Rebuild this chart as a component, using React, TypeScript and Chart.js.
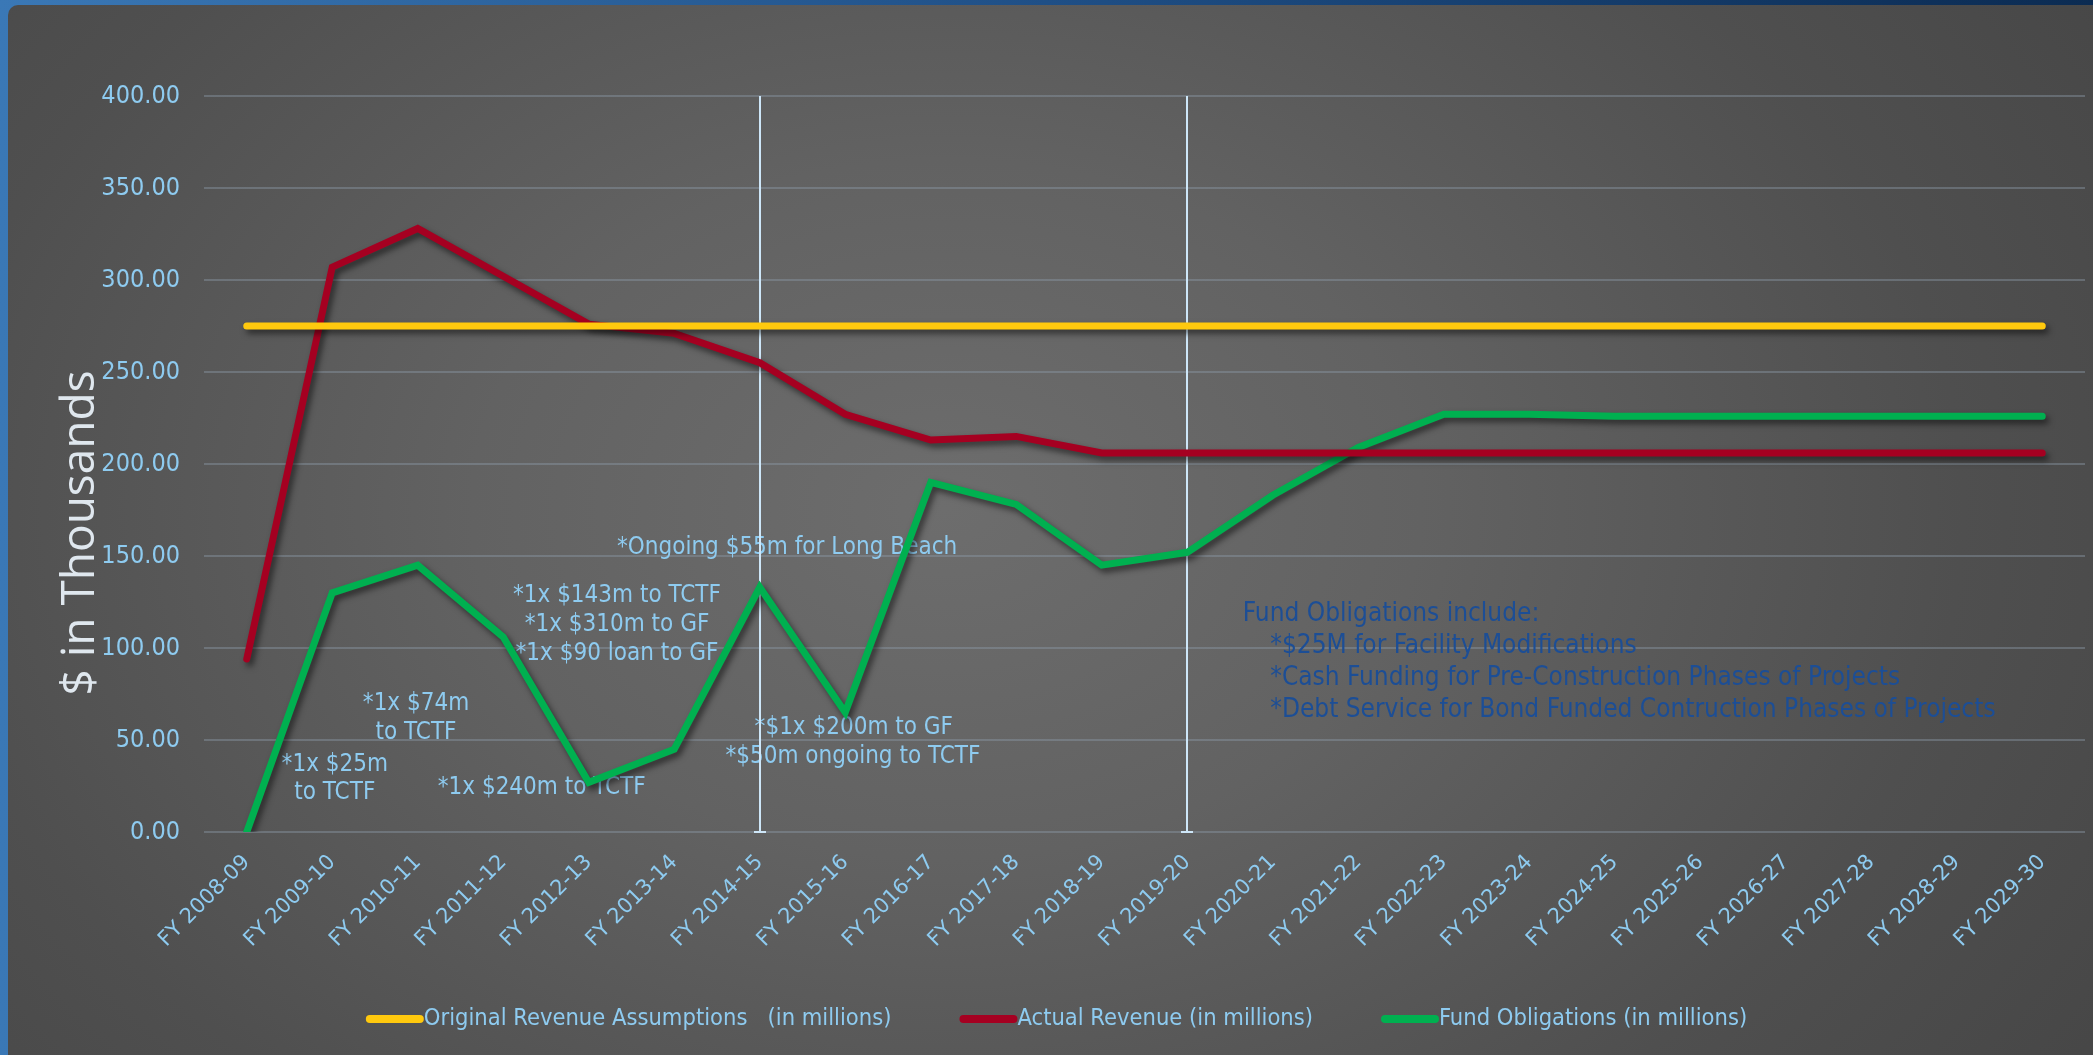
import React, { useEffect, useRef } from "react";
import { Chart, registerables } from "chart.js";

Chart.register(...registerables);

// ---------- data ----------
const categories = [
  "FY 2008-09", "FY 2009-10", "FY 2010-11", "FY 2011-12", "FY 2012-13", "FY 2013-14",
  "FY 2014-15", "FY 2015-16", "FY 2016-17", "FY 2017-18", "FY 2018-19", "FY 2019-20",
  "FY 2020-21", "FY 2021-22", "FY 2022-23", "FY 2023-24", "FY 2024-25", "FY 2025-26",
  "FY 2026-27", "FY 2027-28", "FY 2028-29", "FY 2029-30",
];

const originalRevenue = [
  275, 275, 275, 275, 275, 275, 275, 275, 275, 275, 275,
  275, 275, 275, 275, 275, 275, 275, 275, 275, 275, 275,
];

const actualRevenue = [
  94, 307, 328, 302, 276, 271, 255, 227, 213, 215, 206,
  206, 206, 206, 206, 206, 206, 206, 206, 206, 206, 206,
];

const fundObligations = [
  0, 130, 145, 106, 27, 45, 133, 65, 190, 178, 145,
  152, 183, 209, 227, 227, 226, 226, 226, 226, 226, 226,
];

const seriesLabels = [
  "Original Revenue Assumptions   (in millions)",
  "Actual Revenue (in millions)",
  "Fund Obligations (in millions)",
];

const yAxisTitle = "$ in Thousands";
const yMin = 0;
const yMax = 400;
const yStep = 50;

// vertical marker lines at these fiscal years
const markerYears = ["FY 2014-15", "FY 2019-20"];

// annotation notes: text, category position (index), value position
const noteTexts = [
  "*Ongoing $55m for Long Beach",
  "*1x $143m to TCTF",
  "*1x $310m to GF",
  "*1x $90 loan to GF",
  "*1x $74m",
  "to TCTF",
  "*1x $25m",
  "to TCTF",
  "*1x $240m to TCTF",
  "*$1x $200m to GF",
  "*$50m ongoing to TCTF",
];
const noteAt = [6.32, 4.33, 4.33, 4.33, 1.98, 1.98, 1.03, 1.03, 3.45, 7.1, 7.09];
const noteValue = [154.7, 128.6, 112.8, 96.7, 69.8, 53.8, 36.4, 21.2, 24.1, 56.7, 40.8];

const fundNoteTexts = [
  "Fund Obligations include:",
  "*$25M for Facility Modifications",
  "*Cash Funding for Pre-Construction Phases of Projects",
  "*Debt Service for Bond Funded Contruction Phases of Projects",
];
const fundNoteAt = [11.65, 11.97, 11.97, 11.97];
const fundNoteValue = [118.5, 101.0, 83.6, 66.3];

// ---------- styles ----------
const YELLOW = "#ffc90e";
const RED = "#a50021";
const GREEN = "#00b050";
const SERIES_COLORS = [YELLOW, RED, GREEN];
const LIGHT_BLUE = "#8ecbf0";
const DARK_BLUE = "#1c4e96";
const NARROW = '"Liberation Sans Narrow", "DejaVu Sans Condensed", "Roboto Condensed", "Arial Narrow", sans-serif';

const overlayPlugin = {
  id: "overlay",
  beforeDatasetsDraw(chart: any) {
    const { ctx, scales } = chart;
    const xs = scales.x;
    const ys = scales.y;
    ctx.save();
    ctx.font = `24px ${NARROW}`;
    ctx.textAlign = "center";
    ctx.textBaseline = "middle";
    ctx.fillStyle = LIGHT_BLUE;
    noteTexts.forEach((t, i) => {
      ctx.fillText(t, xs.getPixelForValue(noteAt[i]), ys.getPixelForValue(noteValue[i]));
    });
    ctx.font = `26px ${NARROW}`;
    ctx.textAlign = "left";
    ctx.fillStyle = DARK_BLUE;
    fundNoteTexts.forEach((t, i) => {
      ctx.fillText(t, xs.getPixelForValue(fundNoteAt[i]), ys.getPixelForValue(fundNoteValue[i]));
    });
    // vertical marker lines
    ctx.strokeStyle = "#cde6f8";
    ctx.lineWidth = 2;
    markerYears.forEach((m) => {
      const px = Math.round(xs.getPixelForValue(categories.indexOf(m)));
      const top = ys.getPixelForValue(yMax);
      const bot = ys.getPixelForValue(yMin);
      ctx.beginPath();
      ctx.moveTo(px, top);
      ctx.lineTo(px, bot);
      ctx.moveTo(px - 6, bot);
      ctx.lineTo(px + 6, bot);
      ctx.stroke();
    });
    ctx.restore();
  },
  beforeDatasetDraw(chart: any) {
    const ctx = chart.ctx;
    ctx.save();
    ctx.shadowColor = "rgba(0,0,0,0.55)";
    ctx.shadowBlur = 6;
    ctx.shadowOffsetX = 3;
    ctx.shadowOffsetY = 4;
  },
  afterDatasetDraw(chart: any) {
    chart.ctx.restore();
  },
  afterDraw(chart: any) {
    const { ctx, chartArea } = chart;
    // y axis title
    ctx.save();
    ctx.translate(chartArea.left - 123, chartArea.bottom - 299);
    ctx.rotate(-Math.PI / 2);
    ctx.font = '46px "Open Sans", "DejaVu Sans", sans-serif';
    ctx.fillStyle = "#dfe7ee";
    ctx.textAlign = "center";
    ctx.textBaseline = "middle";
    ctx.fillText(yAxisTitle, 0, 0);
    ctx.restore();

    // legend
    ctx.save();
    ctx.font = `23.5px ${NARROW}`;
    ctx.textBaseline = "middle";
    ctx.textAlign = "left";
    const markerLen = 54;
    const markerGap = 4;
    const itemGap = 68;
    const widths = seriesLabels.map((t) => ctx.measureText(t).width);
    const total =
      widths.reduce((a, b) => a + b, 0) + seriesLabels.length * (markerLen + markerGap) + itemGap * (seriesLabels.length - 1);
    let x = chart.width / 2 + 10 - total / 2;
    const y = chartArea.bottom + 187;
    seriesLabels.forEach((t, i) => {
      ctx.strokeStyle = SERIES_COLORS[i];
      ctx.lineWidth = 8;
      ctx.lineCap = "round";
      ctx.beginPath();
      ctx.moveTo(x + 4, y);
      ctx.lineTo(x + markerLen, y);
      ctx.stroke();
      ctx.fillStyle = LIGHT_BLUE;
      ctx.fillText(t, x + markerLen + markerGap, y);
      x += markerLen + markerGap + widths[i] + itemGap;
    });
    ctx.restore();
  },
};

export default function App() {
  const canvasRef = useRef<HTMLCanvasElement | null>(null);

  useEffect(() => {
    document.body.style.margin = "0";
    const canvas = canvasRef.current;
    if (!canvas) return;
    const series = [originalRevenue, actualRevenue, fundObligations];
    const chart = new Chart(canvas, {
      type: "line",
      data: {
        labels: categories,
        datasets: series.map((d, i) => ({
          label: seriesLabels[i],
          data: d,
          borderColor: SERIES_COLORS[i],
          backgroundColor: SERIES_COLORS[i],
          borderWidth: 7,
          pointRadius: 0,
          pointHoverRadius: 0,
          tension: 0,
          borderCapStyle: "round" as const,
          fill: false,
        })),
      },
      options: {
        responsive: false,
        animation: false,
        devicePixelRatio: 1,
        layout: { padding: { top: 96, right: 8, bottom: 0, left: 0 } },
        scales: {
          x: {
            offset: true,
            grid: { display: false, drawTicks: false },
            border: { display: false },
            ticks: {
              autoSkip: false,
              minRotation: 45,
              maxRotation: 45,
              padding: 18,
              color: LIGHT_BLUE,
              font: { family: '"DejaVu Sans", sans-serif', size: 21 },
            },
            afterFit: (s: any) => {
              s.height = 223;
            },
          },
          y: {
            min: yMin,
            max: yMax,
            grid: { color: "rgba(140,155,170,0.42)", lineWidth: 2, drawTicks: false },
            border: { display: false },
            ticks: {
              stepSize: yStep,
              padding: 24,
              color: LIGHT_BLUE,
              font: { family: NARROW, size: 25 },
              callback: (v: any) => Number(v).toFixed(2),
            },
            afterFit: (s: any) => {
              s.width = 204;
            },
          },
        },
        plugins: {
          legend: { display: false },
          tooltip: { enabled: false },
        },
      },
      plugins: [overlayPlugin],
    });
    return () => chart.destroy();
  }, []);

  return (
    <div
      style={{
        position: "fixed",
        left: 0,
        top: 0,
        width: 2093,
        height: 1055,
        overflow: "hidden",
        background: "linear-gradient(90deg, #3a78b6 0%, #1f4f86 50%, #0b2b52 100%)",
      }}
    >
      <div
        style={{
          position: "absolute",
          left: 8,
          top: 5,
          width: 2085,
          height: 1050,
          borderTopLeftRadius: 10,
          background:
            "radial-gradient(ellipse 65% 95% at 45% 48%, #6d6d6d 0%, #626262 35%, #4f4f4f 75%, #474747 100%)",
        }}
      />
      <canvas
        ref={canvasRef}
        width={2093}
        height={1055}
        style={{ position: "absolute", left: 0, top: 0, width: 2093, height: 1055 }}
      />
    </div>
  );
}
